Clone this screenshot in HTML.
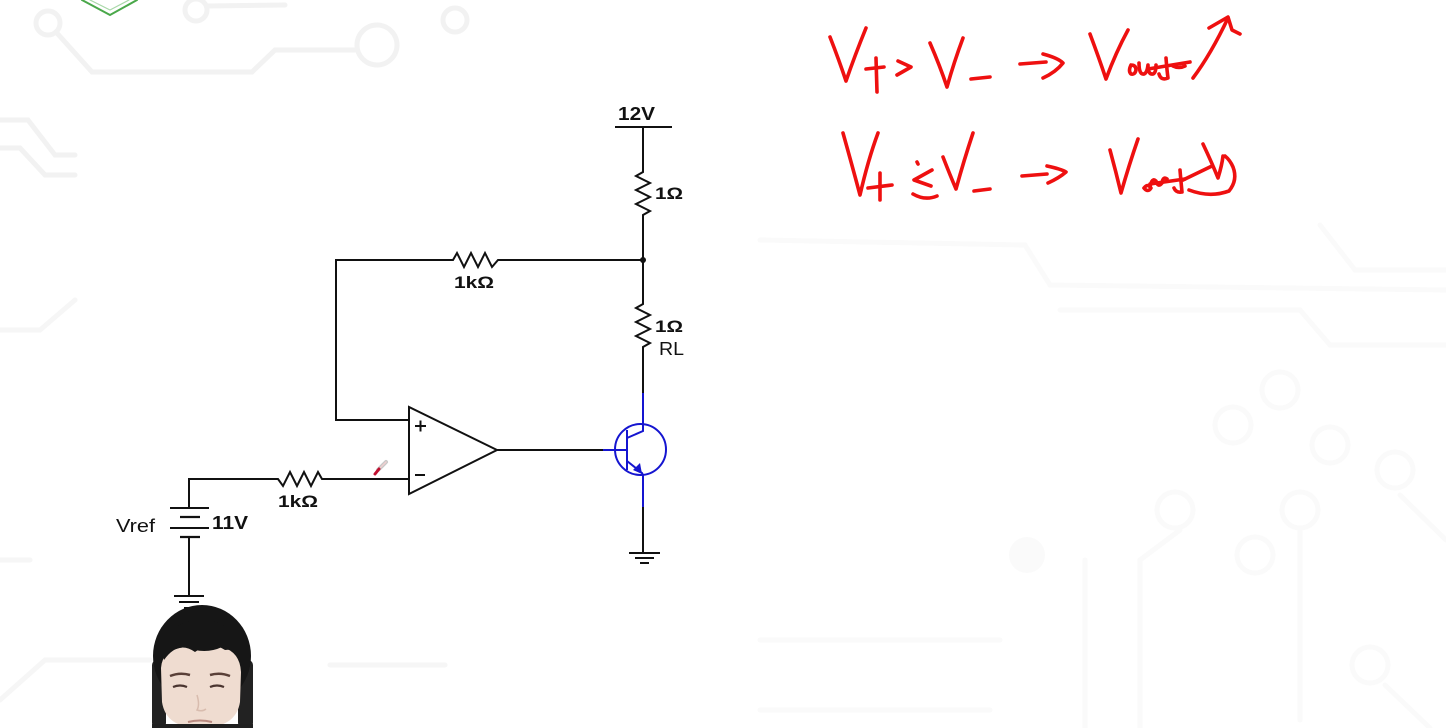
<!DOCTYPE html>
<html>
<head>
<meta charset="utf-8">
<style>
html,body{margin:0;padding:0;background:#fff;}
body{width:1446px;height:728px;overflow:hidden;position:relative;}
svg{position:absolute;left:0;top:0;}
text{font-family:"Liberation Sans",Arial,sans-serif;}
</style>
</head>
<body>
<svg width="1446" height="728" viewBox="0 0 1446 728" xmlns="http://www.w3.org/2000/svg">
  <rect x="0" y="0" width="1446" height="728" fill="#ffffff"/>

  <!-- faint background circuit pattern -->
  <g fill="none" stroke="#f2f2f2" stroke-width="5" stroke-linecap="round">
    <circle cx="48" cy="23" r="12"/>
    <path d="M56,32 L92,72 L252,72 L275,50 L355,50"/>
    <circle cx="377" cy="45" r="20"/>
    <circle cx="196" cy="10" r="11"/>
    <path d="M207,6 L285,5"/>
    <circle cx="455" cy="20" r="12"/>
    <path d="M0,120 L28,120 L55,155 L75,155"/>
    <path d="M0,148 L20,148 L45,175 L75,175"/>
  </g>
  <g fill="none" stroke="#f6f6f6" stroke-width="5" stroke-linecap="round">
    <path d="M0,330 L40,330 L75,300"/>
    <path d="M0,560 L30,560"/>
    <path d="M0,700 L45,660 L150,660"/>
    <path d="M330,665 L445,665"/>
  </g>
  <g fill="none" stroke="#fafafa" stroke-width="5" stroke-linecap="round">
    <path d="M760,240 L1025,245 L1050,285 L1446,290"/>
    <path d="M1320,225 L1355,270 L1446,270"/>
    <path d="M1060,310 L1300,310 L1330,345 L1446,345"/>
    <circle cx="1280" cy="390" r="18"/>
    <circle cx="1233" cy="425" r="18"/>
    <circle cx="1330" cy="445" r="18"/>
    <circle cx="1395" cy="470" r="18"/>
    <circle cx="1175" cy="510" r="18"/>
    <circle cx="1300" cy="510" r="18"/>
    <circle cx="1255" cy="555" r="18"/>
    <circle cx="1370" cy="665" r="18"/>
    <path d="M1300,530 L1300,720"/>
    <path d="M1085,560 L1085,728"/>
    <path d="M1180,530 L1140,560 L1140,728"/>
    <path d="M1400,495 L1446,540"/>
    <path d="M1385,685 L1430,728"/>
    <path d="M760,640 L1000,640"/>
    <path d="M760,710 L990,710"/>
  </g>
  <circle cx="1027" cy="555" r="18" fill="#fafafa"/>

  <!-- top-left green logo fragment -->
  <g fill="none" stroke-linecap="round">
    <path d="M82,0 L110,15 L137,0" stroke="#4aa84a" stroke-width="2"/>
    <path d="M90,0 L110,10 L129,0" stroke="#a8d8a8" stroke-width="1.2"/>
  </g>

  <!-- ===== black schematic wiring ===== -->
  <g fill="none" stroke="#111" stroke-width="2" stroke-linejoin="miter" stroke-linecap="butt">
    <path d="M615,127 L672,127"/>
    <path d="M643,127 L643,172 L636,176 L650,183 L636,190 L650,197 L636,204 L650,211 L643,215 L643,304 L636,308 L650,315 L636,322 L650,329 L636,336 L650,343 L643,347 L643,393"/>
    <path d="M643,260 L498,260 L492,267 L485,253 L478,267 L471,253 L464,267 L457,253 L453,260 L336,260 L336,420 L409,420"/>
    <path d="M409,407 L409,494 L497,450 Z"/>
    <path d="M497,450 L603,450"/>
    <path d="M409,479 L322,479 L318,472 L311,486 L304,472 L297,486 L290,472 L283,486 L278,479 L189,479 L189,508"/>
    <path d="M170,508 L209,508"/>
    <path d="M180,517 L200,517" stroke-width="2.2"/>
    <path d="M170,528 L209,528"/>
    <path d="M180,537 L200,537" stroke-width="2.2"/>
    <path d="M189,537 L189,596"/>
    <path d="M174,596 L204,596"/>
    <path d="M179,602 L199,602"/>
    <path d="M184,608 L194,608"/>
    <path d="M643,507 L643,553"/>
    <path d="M629,553 L660,553"/>
    <path d="M635,558 L654,558"/>
    <path d="M640,563 L649,563"/>
  </g>
  <circle cx="643" cy="260" r="3" fill="#111"/>
  <g stroke="#111" stroke-width="2">
    <path d="M415,426 L426,426 M420.5,420.5 L420.5,431.5"/>
    <path d="M415,475 L425,475"/>
  </g>

  <!-- ===== blue transistor ===== -->
  <g fill="none" stroke="#1515d0" stroke-width="2" stroke-linecap="butt">
    <ellipse cx="640.5" cy="449.5" rx="25.5" ry="25.5"/>
    <path d="M603,450 L627,450"/>
    <path d="M627,430 L627,470"/>
    <path d="M627,438 L643,431 L643,393"/>
    <path d="M627,461 L642,473 L643,475 L643,507"/>
  </g>
  <path d="M642,474 L633,470 L640,463 Z" fill="#1515d0"/>

  <!-- labels -->
  <g fill="#111" font-weight="bold">
    <text x="618" y="120" font-size="18" textLength="37" lengthAdjust="spacingAndGlyphs">12V</text>
    <text x="655" y="199" font-size="17" textLength="28" lengthAdjust="spacingAndGlyphs">1Ω</text>
    <text x="655" y="332" font-size="17" textLength="28" lengthAdjust="spacingAndGlyphs">1Ω</text>
    <text x="454" y="288" font-size="17" textLength="40" lengthAdjust="spacingAndGlyphs">1kΩ</text>
    <text x="278" y="507" font-size="17" textLength="40" lengthAdjust="spacingAndGlyphs">1kΩ</text>
    <text x="212" y="529" font-size="18" textLength="36" lengthAdjust="spacingAndGlyphs">11V</text>
  </g>
  <g fill="#111">
    <text x="659" y="355" font-size="18" textLength="25" lengthAdjust="spacingAndGlyphs">RL</text>
    <text x="116" y="532" font-size="18" textLength="39" lengthAdjust="spacingAndGlyphs">Vref</text>
  </g>

  <!-- red pen cursor -->
  <g stroke-linecap="round">
    <path d="M386,462 L378,470" stroke="#c8c8c8" stroke-width="4"/>
    <path d="M386,462 L378,470" stroke="#f0d0d0" stroke-width="1.5"/>
    <path d="M379,469 L375,474" stroke="#c01030" stroke-width="3"/>
  </g>

  <!-- ===== red handwriting ===== -->
  <g fill="none" stroke="#ee1010" stroke-width="3.6" stroke-linecap="round" stroke-linejoin="round">
    <!-- line 1 -->
    <path d="M830,37 Q839,60 846,81 Q855,55 866,28"/>
    <path d="M866,69 L884,67"/>
    <path d="M876,58 L877,92"/>
    <path d="M898,61 L911,67 L897,75"/>
    <path d="M930,43 Q940,66 947,87 Q954,62 963,38"/>
    <path d="M971,79 L990,77"/>
    <path d="M1020,64 L1046,62"/>
    <path d="M1043,54 Q1058,58 1063,63 Q1056,72 1043,78"/>
    <path d="M1090,34 Q1099,58 1106,79 Q1116,52 1128,30"/>
    <path d="M1131,65 q5,0 5,5 q-1,5 -5,4 q-3,-3 0,-9"/>
    <path d="M1139,63 q0,12 5,11 q3,-1 4,-9 q0,10 5,9 q3,-1 3,-9"/>
    <path d="M1148,69 L1190,62"/>
    <path d="M1166,58 q1,13 2,20 q-7,3 -9,-4"/>
    <path d="M1173,66 q6,3 12,0"/>
    <path d="M1193,78 Q1211,54 1228,18"/>
    <path d="M1209,28 L1228,17 L1232,30 L1240,34"/>
    <!-- line 2 -->
    <path d="M843,133 Q852,165 860,195 Q868,160 878,133"/>
    <path d="M868,188 L892,185"/>
    <path d="M880,173 L880,200"/>
    <path d="M917,162 L918,164"/>
    <path d="M932,170 L914,180 L931,186"/>
    <path d="M913,194 Q925,201 937,196"/>
    <path d="M943,157 Q950,175 956,189 Q964,160 973,133"/>
    <path d="M974,191 L990,189"/>
    <path d="M1022,176 L1047,174"/>
    <path d="M1047,166 Q1061,169 1066,172 Q1059,178 1048,183"/>
    <path d="M1110,150 Q1116,172 1121,193 Q1129,165 1138,139"/>
    <path d="M1144,188 q4,-5 7,0 q-3,5 -7,0"/>
    <path d="M1150,187 q2,-10 6,-6 q2,7 6,2 q1,-7 5,-4"/>
    <path d="M1150,184 L1185,179"/>
    <path d="M1180,170 q1,12 2,22 q-6,1 -8,-4"/>
    <path d="M1183,180 L1212,166"/>
    <path d="M1203,144 Q1212,163 1218,178 Q1222,165 1223,156"/>
    <path d="M1189,190 Q1210,198 1229,191 Q1238,180 1233,167 Q1230,160 1225,156"/>
  </g>

  <!-- ===== webcam person ===== -->
  <g>
    <rect x="152" y="660" width="14" height="68" rx="5" fill="#222"/>
    <rect x="238" y="660" width="15" height="68" rx="5" fill="#222"/>
    <ellipse cx="202" cy="656" rx="49" ry="51" fill="#161616"/>
    <path d="M161,668 Q162,650 185,647 Q205,655 222,647 Q240,652 241,672 L240,702 Q236,728 200,728 Q166,728 162,702 Z" fill="#efdcd0"/>
    <path d="M164,660 Q178,640 195,652 Q210,640 225,650 Q236,648 239,660 L239,640 Q222,618 200,620 Q175,620 163,642 Z" fill="#161616"/>
    <path d="M170,676 Q180,672 190,675" stroke="#5a4038" stroke-width="2.5" fill="none"/>
    <path d="M210,675 Q220,672 230,676" stroke="#5a4038" stroke-width="2.5" fill="none"/>
    <path d="M173,687 Q180,684 187,687" stroke="#4a3530" stroke-width="2.2" fill="none"/>
    <path d="M210,687 Q217,684 224,687" stroke="#4a3530" stroke-width="2.2" fill="none"/>
    <path d="M197,695 Q200,705 197,710 Q202,712 206,709" stroke="#d8bcae" stroke-width="1.5" fill="none"/>
    <path d="M188,722 Q200,719 212,722" stroke="#b98a80" stroke-width="2" fill="none"/>
    <rect x="152" y="724" width="101" height="4" fill="#202020"/>
  </g>
</svg>
</body>
</html>
